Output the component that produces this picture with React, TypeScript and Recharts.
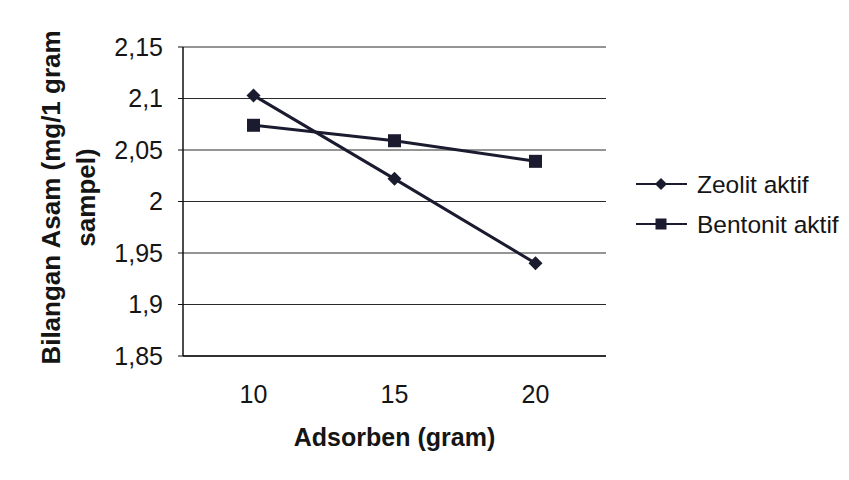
import { CartesianGrid, Legend, Line, LineChart, XAxis, YAxis } from 'recharts'

// data
const adsorben = ['10', '15', '20']
const zeolitAktif = [2.103, 2.022, 1.94]
const bentonitAktif = [2.074, 2.059, 2.039]
const yTicks = [1.85, 1.9, 1.95, 2, 2.05, 2.1, 2.15]
const seriesOrder = ['zeolit', 'bentonit']

const data = adsorben.map((x, i) => ({
  x,
  zeolit: zeolitAktif[i],
  bentonit: bentonitAktif[i],
}))

const FONT = 'Arial, "Liberation Sans", sans-serif'
const INK = '#1b1b30'

const fmt = (v: number) => String(Number(v.toFixed(2))).replace('.', ',')

const Diamond = ({ cx, cy, r = 7 }) => (
  <path d={`M${cx},${cy - r}L${cx + r},${cy}L${cx},${cy + r}L${cx - r},${cy}Z`} fill={INK} />
)

const Square = ({ cx, cy, r = 6.5 }) => (
  <rect x={cx - r} y={cy - r} width={r * 2} height={r * 2} fill={INK} />
)

const YTitle = ({ viewBox }) => {
  const cy = viewBox.y + viewBox.height / 2 - 4
  const style = { fontFamily: FONT, fontWeight: 'bold', fontSize: 26, fill: '#151515' }
  return (
    <g>
      <text x={51} y={cy} transform={`rotate(-90 51 ${cy})`} textAnchor='middle' dominantBaseline='central' style={style}>
        Bilangan Asam (mg/1 gram
      </text>
      <text x={86} y={cy} transform={`rotate(-90 86 ${cy})`} textAnchor='middle' dominantBaseline='central' style={style}>
        sampel)
      </text>
    </g>
  )
}

const XTitle = ({ viewBox }) => (
  <text
    x={viewBox.x + viewBox.width / 2}
    y={446}
    textAnchor='middle'
    style={{ fontFamily: FONT, fontWeight: 'bold', fontSize: 25, fill: '#151515' }}
  >
    Adsorben (gram)
  </text>
)

const LegendBox = ({ payload }) => {
  const items = [...(payload || [])].sort(
    (a, b) => seriesOrder.indexOf(a.dataKey) - seriesOrder.indexOf(b.dataKey)
  )
  return (
    <svg width={219} height={90} style={{ position: 'absolute', left: 630, top: 166, overflow: 'visible' }}>
      {items.map((entry, i) => {
        const y = 18 + i * 40
        return (
          <g key={`leg-${i}`}>
            <line x1={6} x2={57} y1={y} y2={y} stroke={INK} strokeWidth={2} />
            {entry.dataKey === 'zeolit' ? <Diamond cx={31} cy={y} r={6} /> : <Square cx={31} cy={y} r={5.5} />}
            <text x={67} y={y} dominantBaseline='central' style={{ fontFamily: FONT, fontSize: 24.5, fill: '#151515' }}>
              {entry.value}
            </text>
          </g>
        )
      })}
    </svg>
  )
}

export default function App() {
  return (
    <div style={{ position: 'absolute', left: 0, top: 0, width: 849, height: 480, background: '#fff' }}>
      <LineChart width={849} height={480} data={data} margin={{ top: 47, right: 243, left: 0, bottom: 0 }}>
        <CartesianGrid vertical={false} stroke='#2a2a2a' strokeWidth={1} />
        <XAxis
          dataKey='x'
          scale='band'
          height={124}
          tickSize={0}
          tickMargin={29}
          axisLine={{ stroke: '#111', strokeWidth: 1.5 }}
          tickLine={false}
          tick={{ fontFamily: FONT, fontSize: 25, fill: '#151515' }}
          label={<XTitle />}
        />
        <YAxis
          width={183}
          domain={[1.85, 2.15]}
          ticks={yTicks}
          interval={0}
          tickFormatter={fmt}
          tickSize={5}
          tickMargin={15}
          axisLine={{ stroke: '#111', strokeWidth: 1.5 }}
          tickLine={{ stroke: '#111' }}
          tick={{ fontFamily: FONT, fontSize: 25, fill: '#151515' }}
          label={<YTitle />}
        />
        <YAxis
          yAxisId='border'
          orientation='right'
          width={0}
          tick={false}
          tickLine={false}
          axisLine={{ stroke: '#777', strokeDasharray: '3 2' }}
        />
        <Legend
          content={<LegendBox />}
          wrapperStyle={{ position: 'absolute', left: 0, top: 0, width: 0, height: 0, overflow: 'visible' }}
        />
        <Line
          dataKey='zeolit'
          name='Zeolit aktif'
          stroke={INK}
          strokeWidth={3}
          isAnimationActive={false}
          dot={(p) => <Diamond key={`z-${p.index}`} cx={p.cx} cy={p.cy} />}
        />
        <Line
          dataKey='bentonit'
          name='Bentonit aktif'
          stroke={INK}
          strokeWidth={3}
          isAnimationActive={false}
          dot={(p) => <Square key={`b-${p.index}`} cx={p.cx} cy={p.cy} />}
        />
      </LineChart>
    </div>
  )
}
